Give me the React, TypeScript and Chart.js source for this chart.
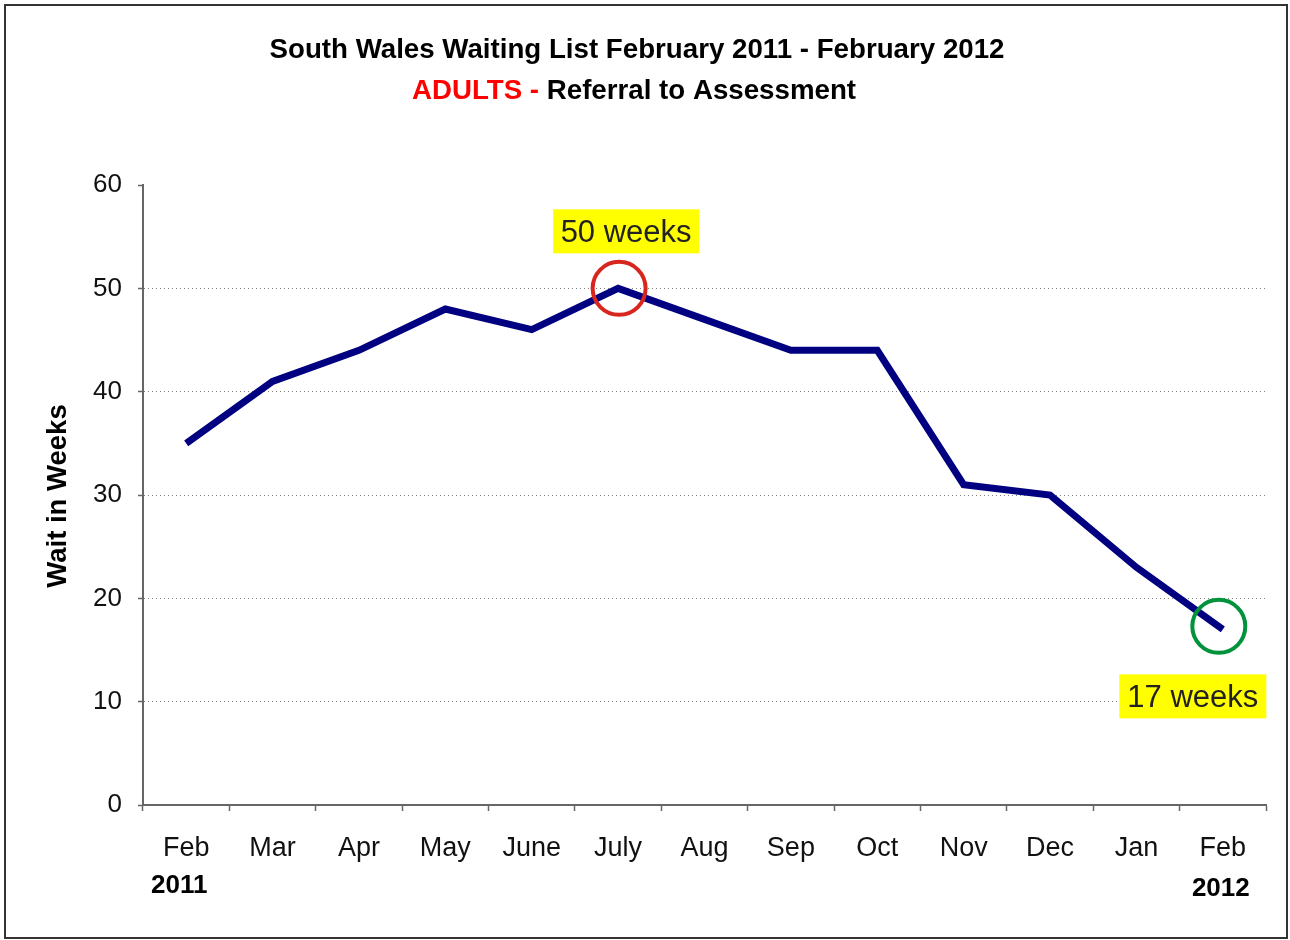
import React, { useEffect, useRef } from 'react';
import { Chart, registerables } from 'chart.js';

Chart.register(...registerables);

const months = ['Feb', 'Mar', 'Apr', 'May', 'June', 'July', 'Aug', 'Sep', 'Oct', 'Nov', 'Dec', 'Jan', 'Feb'];
const waitWeeks = [35, 41, 44, 48, 46, 50, 47, 44, 44, 31, 30, 23, 17];
const yTickValues = [0, 10, 20, 30, 40, 50, 60];
const titleLine1 = 'South Wales Waiting List February 2011 - February 2012';
const titleRedPart = 'ADULTS - ';
const titleBlackPart = 'Referral to Assessment';
const yAxisTitle = 'Wait in Weeks';
const yearIndices = [0, 12];
const yearTexts = ['2011', '2012'];
const calloutIndices = [5, 12];
const calloutTexts = ['50 weeks', '17 weeks'];

const FONT = "'Liberation Sans', Arial, Helvetica, sans-serif";

const decorPlugin = {
  id: 'decor',
  afterDatasetsDraw(chart: any) {
    const ctx = chart.ctx as CanvasRenderingContext2D;
    const xs = chart.scales.x;
    const ys = chart.scales.y;
    const styles = [
      { ring: '#d8261f', dx: 8, dy: -57, rdx: 1, rdy: 0, w: 146 },
      { ring: '#00933b', dx: -30, dy: 67, rdx: -4, rdy: -3, w: 147 },
    ];
    calloutIndices.forEach((idx, i) => {
      const px = xs.getPixelForValue(idx);
      const py = ys.getPixelForValue(waitWeeks[idx]);
      const s = styles[i];
      ctx.save();
      ctx.lineWidth = 4;
      ctx.strokeStyle = s.ring;
      ctx.beginPath();
      ctx.arc(px + s.rdx, py + s.rdy, 26.5, 0, Math.PI * 2);
      ctx.stroke();
      const cx = px + s.dx;
      const cy = py + s.dy;
      ctx.fillStyle = '#ffff00';
      ctx.fillRect(cx - s.w / 2, cy - 22, s.w, 44);
      ctx.fillStyle = '#222';
      ctx.font = `31px ${FONT}`;
      ctx.textAlign = 'center';
      ctx.textBaseline = 'middle';
      ctx.fillText(calloutTexts[i], cx, cy + 2);
      ctx.restore();
    });
  },
  afterDraw(chart: any) {
    const ctx = chart.ctx as CanvasRenderingContext2D;
    const xs = chart.scales.x;
    ctx.save();
    // outer frame
    ctx.strokeStyle = '#333';
    ctx.lineWidth = 2;
    ctx.strokeRect(5, 5, 1282, 933);
    // title
    ctx.font = `bold 27.7px ${FONT}`;
    ctx.textBaseline = 'middle';
    ctx.textAlign = 'center';
    ctx.fillStyle = '#000';
    ctx.fillText(titleLine1, 637, 50);
    const wRed = ctx.measureText(titleRedPart).width;
    const wBlack = ctx.measureText(titleBlackPart).width;
    const startX = 634 - (wRed + wBlack) / 2;
    ctx.textAlign = 'left';
    ctx.fillStyle = '#ff0000';
    ctx.fillText(titleRedPart, startX, 91);
    ctx.fillStyle = '#000';
    ctx.fillText(titleBlackPart, startX + wRed, 91);
    // y axis title
    ctx.save();
    ctx.translate(58, 496);
    ctx.rotate(-Math.PI / 2);
    ctx.textAlign = 'center';
    ctx.font = `bold 27.5px ${FONT}`;
    ctx.fillText(yAxisTitle, 0, 0);
    ctx.restore();
    // year labels
    ctx.font = `bold 26px ${FONT}`;
    ctx.textAlign = 'center';
    const yearOffsets = [{ dx: -7, y: 886 }, { dx: -2, y: 889 }];
    yearIndices.forEach((idx, i) => {
      const px = xs.getPixelForValue(idx);
      ctx.fillText(yearTexts[i], px + yearOffsets[i].dx, yearOffsets[i].y);
    });
    ctx.restore();
  },
};

export default function App() {
  const canvasRef = useRef<HTMLCanvasElement | null>(null);

  useEffect(() => {
    if (!canvasRef.current) return;
    const chart = new Chart(canvasRef.current, {
      type: 'line',
      data: {
        labels: months,
        datasets: [
          {
            data: waitWeeks,
            borderColor: '#000080',
            borderWidth: 7,
            borderCapStyle: 'butt',
            borderJoinStyle: 'miter',
            pointRadius: 0,
            pointHoverRadius: 0,
            tension: 0,
            fill: false,
          },
        ],
      },
      options: {
        responsive: false,
        animation: false,
        events: [],
        layout: { padding: { left: 40, top: 185, right: 24, bottom: 0 } },
        plugins: {
          legend: { display: false },
          title: { display: false },
          tooltip: { enabled: false },
        },
        scales: {
          x: {
            type: 'category',
            offset: true,
            afterFit: (scale: any) => {
              scale.height = 135;
            },
            grid: {
              offset: true,
              drawOnChartArea: false,
              drawTicks: true,
              tickLength: 6,
              tickColor: '#666',
              tickWidth: 1.5,
            },
            border: { display: true, color: '#666', width: 2 },
            ticks: {
              color: '#111',
              font: { family: FONT, size: 27 },
              padding: 21,
              maxRotation: 0,
              autoSkip: false,
            },
          },
          y: {
            min: 0,
            max: 60,
            afterFit: (scale: any) => {
              scale.width = 103;
            },
            afterBuildTicks: (scale: any) => {
              scale.ticks = yTickValues.map((v) => ({ value: v }));
            },
            grid: {
              color: (c: any) =>
                c.tick && (c.tick.value === 0 || c.tick.value === 60) ? 'rgba(0,0,0,0)' : '#808080',
              lineWidth: 1,
              tickLength: 5,
              tickColor: '#666',
              tickWidth: 1.5,
            },
            border: { display: true, color: '#666', width: 2, dash: [1, 3] },
            ticks: {
              color: '#111',
              font: { family: FONT, size: 26 },
              padding: 16,
            },
          },
        },
      },
      plugins: [decorPlugin],
    } as any);
    return () => chart.destroy();
  }, []);

  return (
    <div style={{ position: 'absolute', left: 0, top: 0, width: 1290, height: 940, background: '#fff' }}>
      <canvas ref={canvasRef} width={1290} height={940} style={{ display: 'block' }} />
    </div>
  );
}
